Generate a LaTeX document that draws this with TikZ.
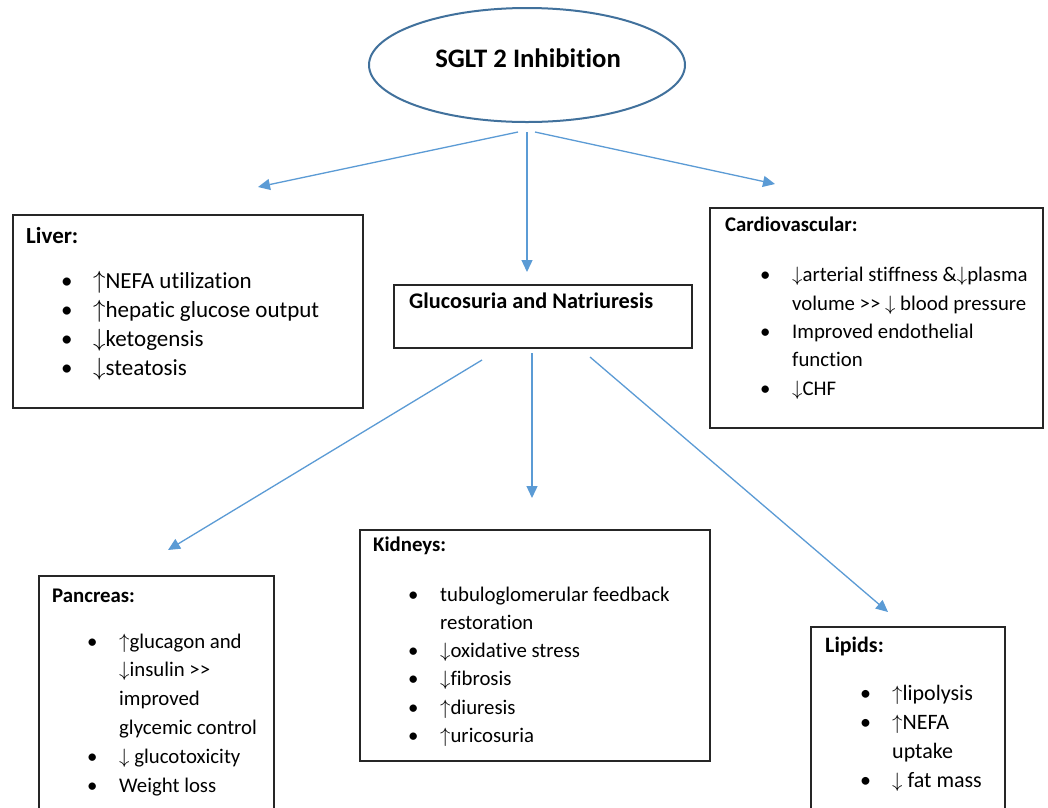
\documentclass[tikz,border=0pt]{standalone}
\usepackage{fontspec}
\setmainfont{Carlito}[Ligatures=NoCommon]
\usetikzlibrary{arrows.meta,shapes.geometric}
\definecolor{arrowblue}{HTML}{5B9BD5}
\definecolor{ellblue}{HTML}{41719C}
\definecolor{boxline}{HTML}{262626}
\newcommand{\bul}[1]{\hspace*{35pt}\makebox[32pt][l]{\textbullet}#1}
\newcommand{\cont}[1]{\hspace*{67pt}#1}
\newcommand{\up}{$\uparrow$}
\newcommand{\dn}{$\downarrow$}
\tikzset{
  box/.style={draw=boxline, line width=1.8pt, anchor=north west, inner sep=0},
  body/.style={anchor=base west, inner sep=0, align=left, text=black},
  conn/.style={draw=arrowblue, line width=1.3pt, -{Triangle[length=12pt,width=11pt]}},
}
\begin{document}
\begin{tikzpicture}[x=1pt,y=-1pt]
\useasboundingbox (0,0) rectangle (1048,807);
\clip (0,0) rectangle (1048,807);
\fill[white] (0,0) rectangle (1048,807);

% top ellipse
\node[draw=ellblue, line width=2pt, ellipse, minimum width=316pt, minimum height=114pt, inner sep=0] (sglt) at (527,65) {};
\node[anchor=base, inner sep=0, font=\fontsize{26.7}{30}\selectfont\bfseries] (sgltT) at (528,67) {SGLT 2 Inhibition};

% boxes
\node[box, minimum width=350pt, minimum height=193pt] (liver) at (12,214) {};
\node[box, minimum width=333pt, minimum height=220pt] (cardio) at (709,207) {};
\node[box, minimum width=298pt, minimum height=63pt] (gluc) at (393,284) {};
\node[box, minimum width=235pt, minimum height=260pt] (pancreas) at (38,575) {};
\node[box, minimum width=350pt, minimum height=231pt] (kidneys) at (359,529) {};
\node[box, minimum width=194pt, minimum height=220pt] (lipids) at (810,626) {};

% texts (anchored at the baseline of the last line)
\node[anchor=base west, inner sep=0, font=\fontsize{22.3}{28}\selectfont\bfseries] (glucT) at (409,308) {Glucosuria and Natriuresis};

\node[body, font=\fontsize{23}{29}\selectfont] (liverT) at (26,375) {\textbf{Liver:}\\[16pt]
\bul{\up NEFA utilization}\\
\bul{\up hepatic glucose output}\\
\bul{\dn ketogensis}\\
\bul{\dn steatosis}};

\node[body, font=\fontsize{20.8}{28.3}\selectfont] (cardioT) at (725,395) {\textbf{Cardiovascular:}\\[21.7pt]
\bul{\dn arterial stiffness \&\dn plasma}\\
\cont{volume >\kern0pt> \dn\ blood pressure}\\
\bul{Improved endothelial}\\
\cont{function}\\
\bul{\dn CHF}};

\node[body, font=\fontsize{20.8}{28.8}\selectfont] (pancreasT) at (52,792) {\textbf{Pancreas:}\\[17.2pt]
\bul{\up glucagon and}\\
\cont{\dn insulin >\kern0pt>}\\
\cont{improved}\\
\cont{glycemic control}\\
\bul{\dn\ glucotoxicity}\\
\bul{Weight loss}};

\node[body, font=\fontsize{20.8}{28.3}\selectfont] (kidneysT) at (373,742.5) {\textbf{Kidneys:}\\[21.7pt]
\bul{tubuloglomerular feedback}\\
\cont{restoration}\\
\bul{\dn oxidative stress}\\
\bul{\dn fibrosis}\\
\bul{\up diuresis}\\
\bul{\up uricosuria}};

\node[body, font=\fontsize{22}{29}\selectfont] (lipidsT) at (825,787) {\textbf{Lipids:}\\[19pt]
\bul{\up lipolysis}\\
\bul{\up NEFA}\\
\cont{uptake}\\
\bul{\dn\ fat mass}};

% connector end points
\coordinate (s1) at (518,132); \coordinate (e1) at (258,187);
\coordinate (s2) at (527,132); \coordinate (e2) at (527,272);
\coordinate (s3) at (535,132); \coordinate (e3) at (775,184);
\coordinate (s4) at (482,360); \coordinate (e4) at (168,550);
\coordinate (s5) at (532,353); \coordinate (e5) at (532,498);
\coordinate (s6) at (590,357); \coordinate (e6) at (888,612);

\draw[conn] (s1) -- (e1);
\draw[conn] (s2) -- (e2);
\draw[conn] (s3) -- (e3);
\draw[conn] (s4) -- (e4);
\draw[conn] (s5) -- (e5);
\draw[conn] (s6) -- (e6);
\end{tikzpicture}
\end{document}
